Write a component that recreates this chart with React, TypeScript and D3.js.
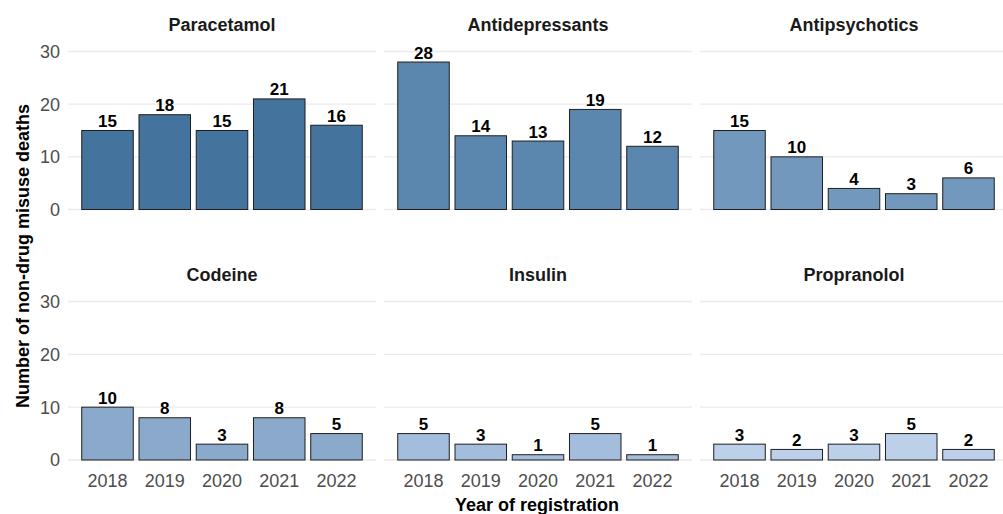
import React from "react";
import * as d3 from "d3";

const years = ["2018", "2019", "2020", "2021", "2022"];
const drugs = ["Paracetamol", "Antidepressants", "Antipsychotics", "Codeine", "Insulin", "Propranolol"];
const paracetamol = [15, 18, 15, 21, 16];
const antidepressants = [28, 14, 13, 19, 12];
const antipsychotics = [15, 10, 4, 3, 6];
const codeine = [10, 8, 3, 8, 5];
const insulin = [5, 3, 1, 5, 1];
const propranolol = [3, 2, 3, 5, 2];
const seriesValues = [paracetamol, antidepressants, antipsychotics, codeine, insulin, propranolol];
const colors = ["#44739e", "#5b87ae", "#7298bd", "#8aa9cb", "#a5bddc", "#bdd0ea"];
const yTicks = [0, 10, 20, 30];

const W = 1003;
const H = 514;
const FONT = "'Liberation Sans', Arial, sans-serif";

export default function App() {
  const panelW = 308;
  const panelStep = 316;
  const left0 = 68;
  const rowZero = [209.5, 460];
  const rowTop = [51.5, 301.5];

  const x = d3.scaleBand<string>().domain(years).range([0, panelW]).paddingInner(0.1).paddingOuter(0.24);

  return (
    <svg width={W} height={H} style={{ position: "fixed", left: 0, top: 0, background: "#fff" }} fontFamily={FONT}>
      <rect width={W} height={H} fill="#fff" />
      {drugs.map((drug, i) => {
        const col = i % 3;
        const row = Math.floor(i / 3);
        const px = left0 + col * panelStep;
        const y = d3.scaleLinear().domain([0, 30]).range([rowZero[row], rowTop[row]]);
        const vals = seriesValues[i];
        return (
          <g key={drug} transform={`translate(${px},0)`}>
            {yTicks.map((t) => (
              <line key={t} x1={0} x2={Math.min(panelW, W - px)} y1={y(t)} y2={y(t)} stroke="#ebebeb" strokeWidth={1.4} />
            ))}
            <text x={panelW / 2} y={rowTop[row] - 21} textAnchor="middle" fontWeight="bold" fontSize={18} fill="#1a1a1a">
              {drug}
            </text>
            {vals.map((v, j) => {
              const bx = x(years[j])!;
              const bw = x.bandwidth();
              return (
                <g key={j}>
                  <rect x={bx} y={y(v)} width={bw} height={y(0) - y(v)} fill={colors[i]} stroke="#1e1e1e" strokeWidth={1} />
                  <text x={bx + bw / 2} y={y(v) - 3.5} textAnchor="middle" fontWeight="bold" fontSize={17} fill="#000">
                    {v}
                  </text>
                </g>
              );
            })}
            {col === 0 &&
              yTicks.map((t) => (
                <text key={t} x={-8} y={y(t)} dy="0.36em" textAnchor="end" fontSize={18} fill="#4d4d4d">
                  {t}
                </text>
              ))}
            {row === 1 &&
              years.map((yr) => (
                <text key={yr} x={x(yr)! + x.bandwidth() / 2} y={487} textAnchor="middle" fontSize={18} fill="#4d4d4d">
                  {yr}
                </text>
              ))}
          </g>
        );
      })}
      <text x={537} y={511} textAnchor="middle" fontWeight="bold" fontSize={18} fill="#000">
        Year of registration
      </text>
      <text transform={`translate(29,256) rotate(-90)`} textAnchor="middle" fontWeight="bold" fontSize={18} fill="#000">
        Number of non-drug misuse deaths
      </text>
    </svg>
  );
}
